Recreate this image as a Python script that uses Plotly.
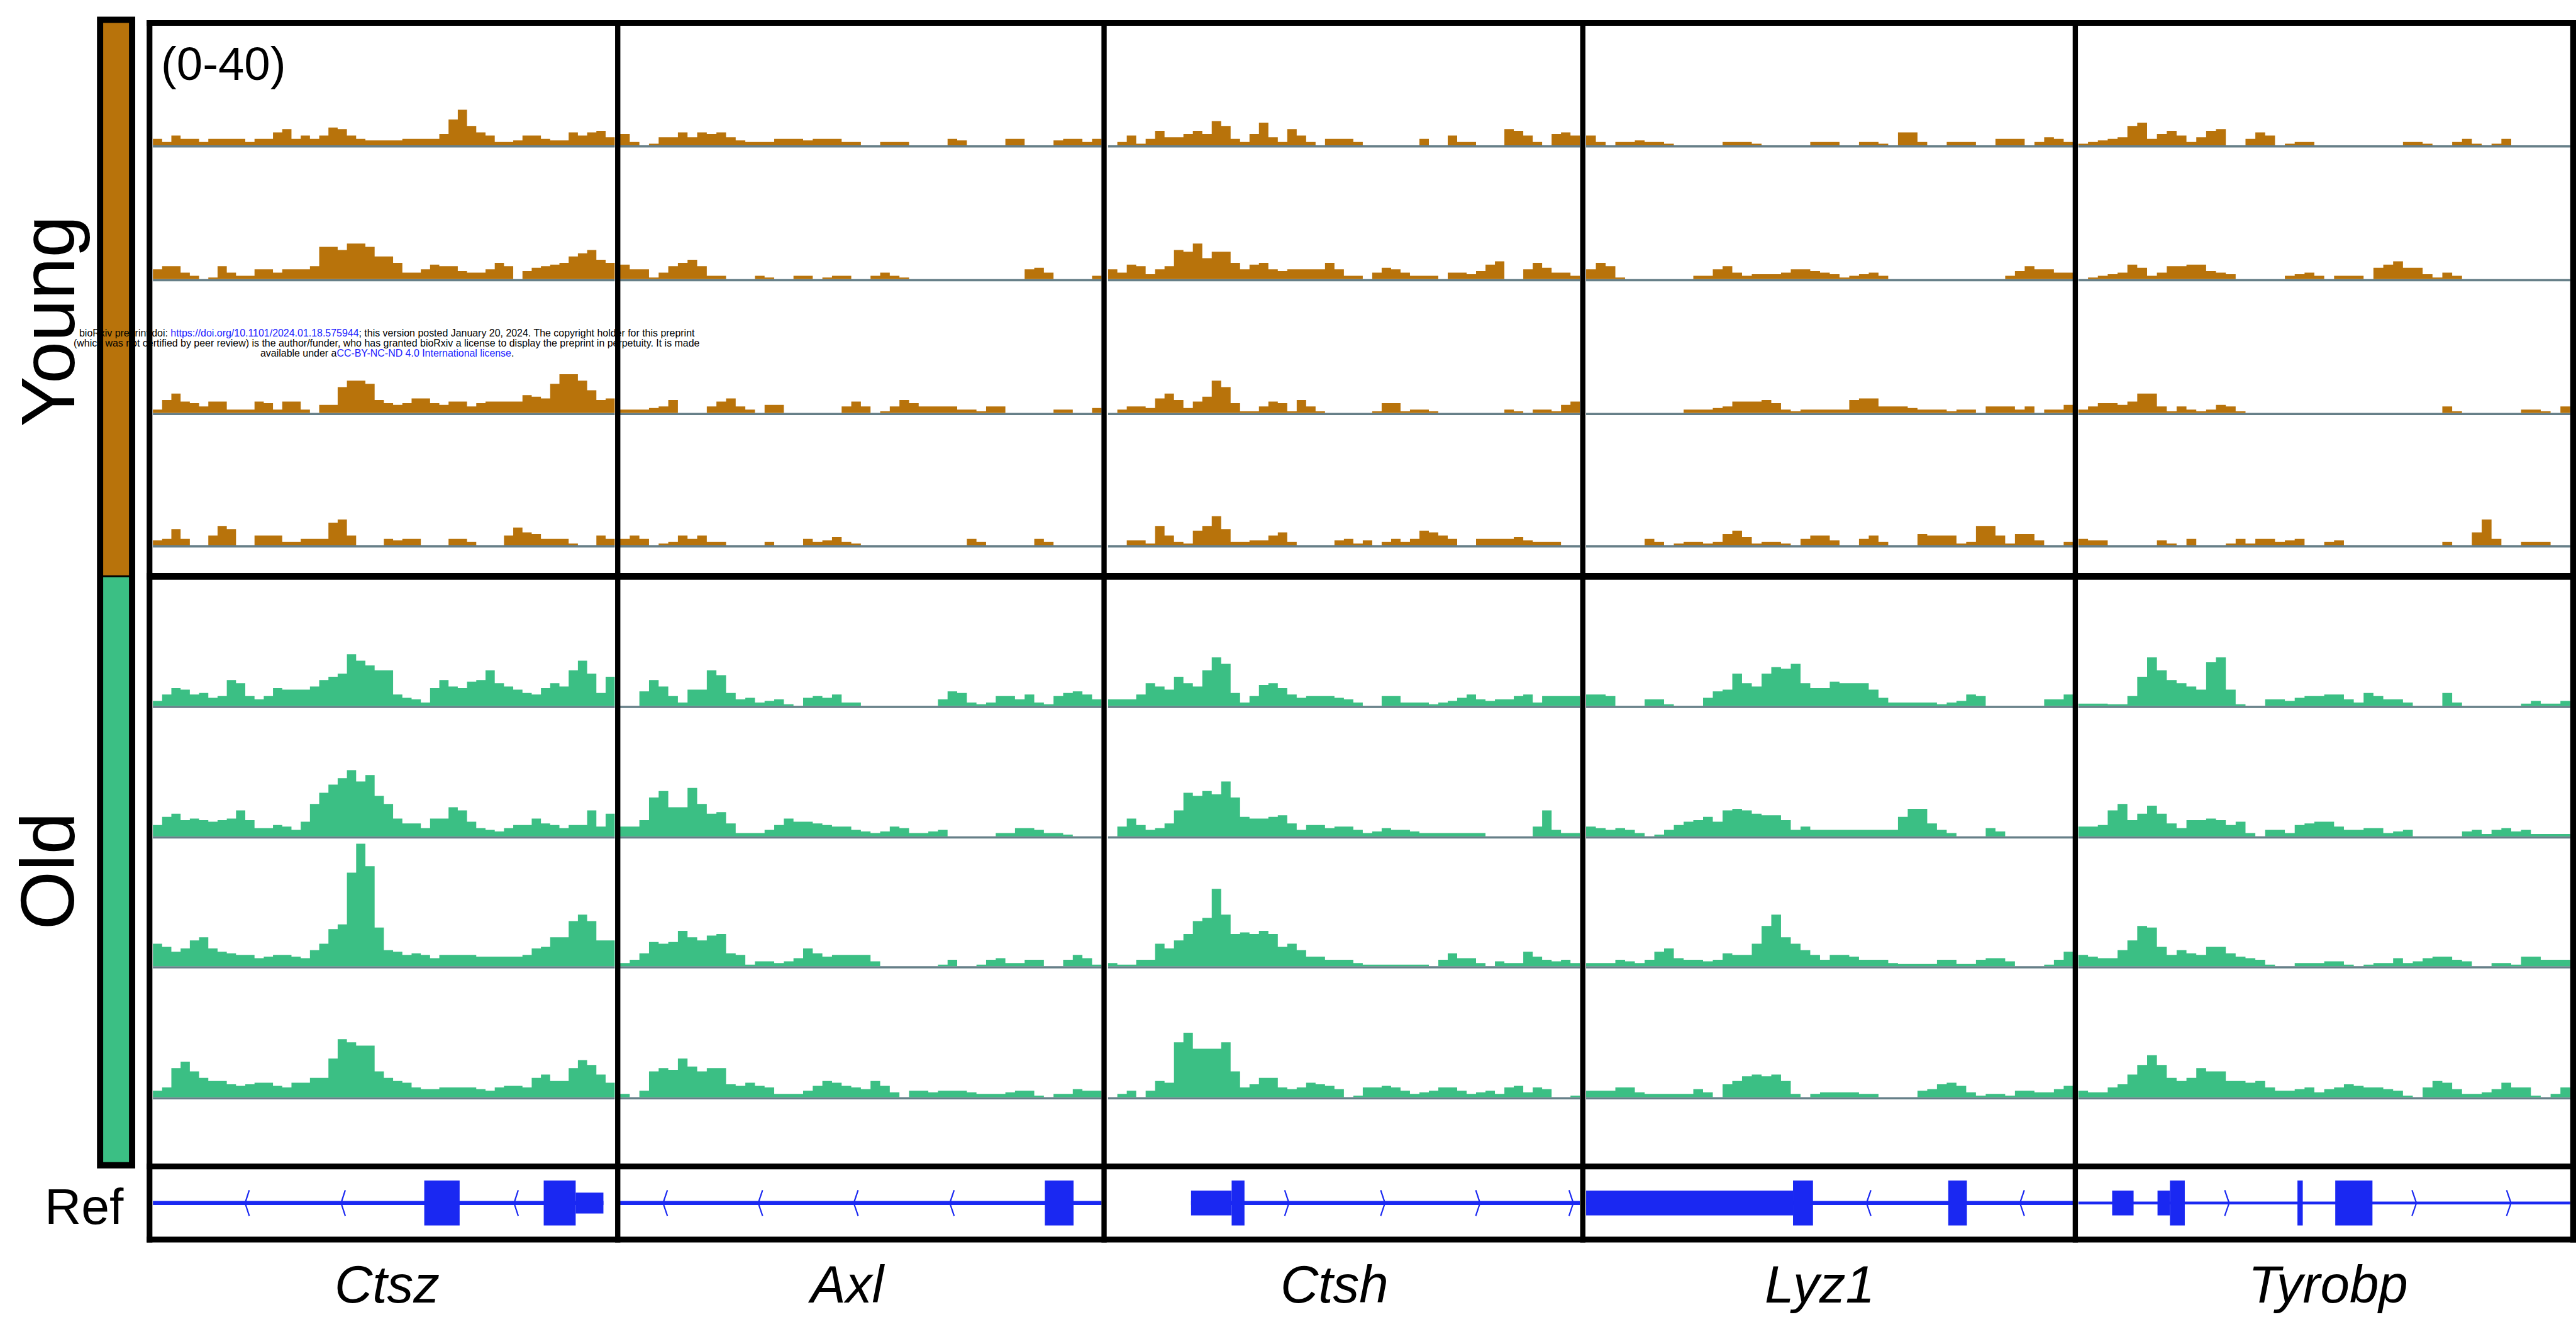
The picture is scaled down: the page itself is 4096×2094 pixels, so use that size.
import plotly.graph_objects as go

# ------------------------------------------------------------------ data
GENES = ["Ctsz", "Axl", "Ctsh", "Lyz1", "Tyrobp"]
GROUPS = ["Young", "Old"]
SCALE_LABEL = "(0-40)"
REF_LABEL = "Ref"

# coverage tracks (0-40 scale), 50 bins across each gene window, 4 replicates per group
CTSZ_YOUNG = [
    [2,1,3,2,2,1,2,2,2,2, 1,2,2,4,5,2,3,2,3,5.5, 5,3,2,1.5,1.5,1.5,1.5,2,2,2, 2,3.5,8,11,6,4,3,1,1,1.5, 3,3,2,1.5,1.5,4,3,4,4.5,2.5],
    [3,4,4,2,1,0,0.5,4,2,1, 1,3,3,2,3,3,3,4,10,10, 9,11,11,10,7,7,5,2,2,3, 4.5,4,4,2.5,2,2,3,5,4,0, 2.5,3.5,4,4.5,5,7,8,9,6,5],
    [1,4,6,3.5,3,2,3.5,3.5,1,1, 1,3.5,3,1,3.5,3.5,1,0,2.5,2.5, 8,10,10,9,4,3,2.5,3,4.5,4.5, 3,2.5,3.5,3.5,2,3,3.5,3.5,3.5,3.5, 5.5,5,4.5,9,12,12,10,7,4,4.5],
    [1.5,2,5,2,0,0,3,6,5,0, 0,3,3,3,1,1,2,2,2,7, 8,3,0,0,0,2,1.5,2,2,0, 0,0,2,2,1,0,0,0,3,5.5, 4,3.5,2,2,2,0.5,0,0,3,2],
]
CTSZ_OLD = [
    [1.5,3.5,5.5,5,3.5,4,2.5,3,8,7, 3,2,3,5.5,5,5,5,6,8,9, 10,16,14,12.5,11,11,3.5,2.5,2,1, 5.5,8,6,5.5,7.5,8,11,7,6,5, 4,3.5,5.5,7,6,11,14,10,4,9],
    [3.5,6,7,5,5.5,5,4.5,5,5.5,8, 5,2.5,2.5,3.5,3,2,4.5,10,13.5,16, 18,20.5,17,19,12.5,10,5.5,4,4,2.5, 5.5,5.5,9,8,4.5,2.5,2,1.5,2.5,3.5, 3.5,5.5,4,3.5,2.5,3.5,3.5,8,3,7],
    [7,6,4.5,5.5,8,9,5.5,4.5,4,3.5, 3.5,2.5,3,3.5,3.5,3,2.5,5,7,11.5, 13,29,38,31,12,5,4.5,3.5,4,3.5, 2.5,3.5,3.5,3.5,3.5,3,3,3,3,3, 3.5,5.5,6,9,9,14,16,14,8,8],
    [2,3,9,11,8,6,5,5,4,3.5, 4,4.5,4.5,3.5,3,4.5,4.5,6,6,12, 18,17,16,16,8,6,5,4.5,3,2.5, 2.5,3,3,3,3,2.5,2,3,3.5,3.5, 3,6,7,5,5,9,11.5,10,7,4.5],
]
AXL_YOUNG = [
    [3.5,1,0,0.5,2.5,2.5,4,2.5,4,3.5, 4,2.5,1.5,1,1,1,2,2,2,1.5, 2,2,2,1,1,0,0,1,1,1, 0,0,0,0,2,1.5,0,0,0,0, 2,2,0,0,0,1.5,2,2,1,2],
    [4.5,3,3,0.5,2,4,5,6,4,1, 1,0,0,0,1,0.5,0,0,1,1, 0,0.5,1,1,0,0,1,2,1,0.5, 0,0,0,0,0,0,0,0,0,0, 0,0,3,3.5,2,0,0,0,0,1],
    [1,1,1,1.5,2,4,0,0,0,2, 3.5,4.5,2,1,0,2.5,2.5,0,0,0, 0,0,0,2,3.5,2,0,0.5,2,4, 3,2,2,2,2,1,1,0.5,2,2, 0,0,0,0,0,1,1,0,0,1.5],
    [2,3,2,0,0.5,1,3,2,3,1, 1,0,0,0,0,1,0,0,0,2, 1,1.5,2.5,1,0.5,0,0,0,0,0, 0,0,0,0,0,0,2,1,0,0, 0,0,0,2,1,0,0,0,0,0],
]
AXL_OLD = [
    [0,0,4.5,8,6,3,1,5,5,11, 9.5,4,2,2.5,1,1.5,2,0.5,0,2.5, 3,2.5,3.5,1,1,0,0,0,0,0, 0,0,0,2,4.5,4,1,0.5,1,3, 3,2,3.5,1,0.5,3,4,4.5,3.5,2],
    [3,3,5,12,14,9,9,15,10,7, 7.5,4,1,1,1,2,3.5,5.5,4.5,4.5, 4,3.5,3,3,2,1.5,1,1.5,3,2.5, 1,1,1.5,2,0,0,0,0,0,1, 1,2.5,2.5,2,1,1,0.5,0,0,0],
    [1,2,4,7.5,7,7.5,11,9,8,9.5, 10,4,3.5,0.5,1.5,1.5,1,1.5,2.5,5.5, 4,3,3.5,3.5,3.5,3.5,1.5,0,0,0, 0,0,0,0.5,2,0,0,0.5,2,2.5, 1,1,2,2,0,0,2,3.5,2.5,0.5],
    [1,0,2,8,9,8.5,12,9.5,8,9, 9,4,3.5,4.5,3.5,3,1,1,1,2, 3.5,5,4.5,3.5,3,2.5,5,3.5,1.5,0, 2,2,1.5,2,2,2,1.5,1,1,1, 1.5,2,2,0.5,0,1,1,2.5,2,2],
]
CTSH_YOUNG = [
    [0,1,3,0.5,2,4.5,2.5,2.5,3.5,4.5, 3.5,7.5,6,2,1,3.5,7,2.5,1,5, 3,1,0,2,2,2,1,0,0,0, 0,0,0,2,0,0,3,1,1,0, 0,0,5,4.5,3,1,0,3.5,4,3],
    [3,2,4.5,4,1.5,3,4,9,8.5,11, 6.5,8.5,8.5,5,3,4.5,5,3,2.5,3, 3,3,3,5,3,1,1,0,2,3.5, 3,2,1,1,1,0,2,2,1.5,2.5, 4.5,5.5,0,0,3,5,3.5,2,2,1],
    [0,1,2,2,1.5,4.5,6,4,1.5,3.5, 5,10,8,3,0.5,0.5,2,3.5,3,0.5, 4,2,0.5,0,0,0,0,0,0.5,3, 3,0.5,1,1,0.5,0,0,0,0,0, 0,0,1,0.5,0,1,1,0.5,2.5,3.5],
    [0,0,1.5,1.5,0.5,6,3,1,0.5,4.5, 6,9,5,1,1,1.5,1.5,3,4,1, 0,0,0,0,1.5,2,0.5,1.5,0,1, 2,1,2,4.5,4,3,2,0,0,2, 2,2,2,2.5,1.5,1,1,1,0,0],
]
CTSH_OLD = [
    [2,2,2,3.5,7,6,5,9,7,6, 11,15,13,4,1,3,6.5,7,5.5,3.5, 2.5,3,3,3,2.5,2,1,0,0,3, 3,1,1,1,0.5,1,1.5,2.5,3.5,2, 1.5,2,2,3,3.5,1,3,3,3,3],
    [0,3,5.5,3.5,2,2.5,4,8,13.5,12.5, 14,13,17,12,6,5.5,5.5,6,6.5,4, 2,3.5,3.5,2.5,3,3,2,1,1.5,2.5, 2,2,1.5,1,1,1,1,1,1,1, 0,0,0,0,0,3,8,2,1,1],
    [1,0.5,0.5,2,2,7,5.5,8,10,14, 15,24,16,10,10.5,10,11,10,6,7, 5,3,3,2,2,2,1,0.5,0.5,0.5, 0.5,0.5,0.5,0.5,0,2,4,2.5,2.5,1, 0,1.5,1,1,4.5,3,2,1.5,2,1],
    [0,1,2,0,2,5,4.5,17,20,15, 15,15,17,8,3,4,6,6,3,2.5, 3,4.5,4,3.5,2.5,0,0.5,3,3,3.5, 3,2,1,1.5,2,3,3,2,1,1.5, 2,1,3,3.5,1.5,3,2.5,0,0,0.5],
]
LYZ1_YOUNG = [
    [3,1,0,1,1,1.5,1,1,0.5,0, 0,0,0,0,1,1,1,0.5,0,0, 0,0,0,1,1,1,0,0,1,1, 0.5,0,4,4,1,0,0,1,1,1, 0,0,2,2,2,0,1,2.5,2,1],
    [3,5,4,0.5,0,0,0,0,0,0, 0,1,1,3,4,2,1,1.5,1.5,1.5, 2,3,3,2.5,2,1.5,0.5,1,1.5,2, 1,0,0,0,0,0,0,0,0,0, 0,0,0,1,2.5,4,3,3,2,2],
    [0,0,0,0,0,0,0,0,0,0, 1,1,1,1.5,2,3.5,3.5,3.5,4,3, 1,0.5,1,1,1,1,1,4,4.5,4.5, 2,2,2,1.5,1,1,1,0.5,1,1, 0,2,2,2,1,2,0,1,1,2.5],
    [0,0,0,0,0,0,2,1,0,0.5, 1,1,0.5,1,3.5,4.5,2.5,0.5,1,1, 0.5,0,2,3,3,1.5,0,0,2,3, 1,0,0,0,3.5,3,3,3,0.5,1, 6,6,3,0.5,3.5,3.5,1.5,0,0,1],
]
LYZ1_OLD = [
    [3.5,3.5,3,0,0,0,2,2,0.5,0, 0,0,2.5,4.5,5,10,7,6,10,12, 11.5,13,7,5.5,5.5,7.5,7,7,7,5, 2.5,1,1,1,1,1,0.5,1,1.5,3.5, 3,0,0,0,0,0,0,2,2,3.5],
    [3,2.5,2,2.5,2,1,0,0.5,2,3.5, 4.5,5,6,4.5,8,8.5,8,7,6.5,6.5, 5,2,3,2,2,2,2,2,2,2, 2,2,6,8.5,8.5,4,2,1,0,0, 0,2.5,1.5,0,0,0,0,0,0,0],
    [1,1,1,2,1.5,1,2,4.5,5.5,2.5, 2,2,1.5,2,4,3.5,3.5,7,12.5,16, 9,7,5,3.5,2,3.5,3.5,3,2,2, 2,1,0.7,0.7,0.7,0.7,2,2,0.7,0.7, 2,2.5,2.5,1.5,0,0,0,0.5,2,4.5],
    [2,2,2,3,3,1.5,1,1,1,1, 1,2.5,1.5,0,4,5,6.5,7,6.5,7, 5,1,0,1,1.5,1.5,1.5,1.5,1,1, 0,0,0,0,2,2.5,4,4.5,3.5,1.5, 0.5,1,1,0.5,2,2,1.5,1.5,2.5,3.5],
]
TYROBP_YOUNG = [
    [0.5,1,1.5,2,2.5,6,7,2,3.5,4.5, 3,1,2.5,4.5,5,0,0,2,4,3, 0,0.5,1,1,0,0,0,0,0,0, 0,0,0,1,1,0.5,0,0,1,2, 0.5,0,0.5,2,0,0,0,0,0,0],
    [0,0.5,1,1.5,2,4.5,3.5,1,2,4, 4,4.5,4.5,2.5,2,1.5,0,0,0,0, 0,1,1.5,2,1,0,1,1,1,0, 3.5,4.5,5.5,3.5,3.5,1.5,0.5,2,1,0, 0,0,0,0,0,0,0,0,0,0],
    [1,2,3,3,2.5,3.5,6,6,2,0.5, 2,1,0.5,1,2.5,2,0.5,0,0,0, 0,0,0,0,0,0,0,0,0,0, 0,0,0,0,0,0,0,2,0.5,0, 0,0,0,0,0,1,1,0.5,0,2],
    [2,1.5,1.5,0,0,0,0,0,1.5,0.5, 0,2,0,0,0,0.5,2,0.5,2,2, 1,1.5,2,0,0,1,1.5,0,0,0, 0,0,0,0,0,0,0,1,0,0, 4,8,2,0,0,1,1,1,0,0],
]
TYROBP_OLD = [
    [0.7,0.7,0.7,0.5,0.5,3,9,15,11,8, 7,6,5,13.5,15,5,0.5,0,0,2, 2,1.5,2.5,3,3,3.5,3.5,2,1,4, 3,2,2,1,0,0,0,4,1,0, 0,0,0,0,0,0.7,1.5,0.7,0.7,1.5],
    [3,3,3.5,8,10,5,7,9.5,7,4, 2.5,5,5,5.5,5,3.5,4.5,1,0,2, 2,1,3.5,4,4.5,4.5,3,2,2,2.5, 2.5,1,1.5,2,0,0,0,0,0,1.5, 2,0.7,2,2.5,1.5,2,0.7,0.7,0.7,0.7],
    [3.5,3,2.5,2.5,5,8,12.5,12,6,3.5, 5,4,3.5,6,6,4,3,2.5,2,0.5, 0,0,1,1,1,1.5,1.5,0.5,0,0.5, 1,1,2.5,1,1.5,2.5,3,3,2,1.5, 0,0,1,1,0.5,3,3,2,2,2],
    [2,1.5,1.5,3,4,7,10,13,10,6, 5,6,9,8,8,5,5,4.5,5,3, 2,2,2.5,3,1.5,2.5,3,4,3.5,3, 3,2.5,2,0.5,0,3,5,4.5,2.5,1, 1,1.5,2.5,4.5,3,3,0.5,0,1,3],
]
YOUNG = [CTSZ_YOUNG, AXL_YOUNG, CTSH_YOUNG, LYZ1_YOUNG, TYROBP_YOUNG]
OLD = [CTSZ_OLD, AXL_OLD, CTSH_OLD, LYZ1_OLD, TYROBP_OLD]

# gene models in window units (0-50): exons (start, end, kind), intron span, strand arrows
CTSZ_EXONS = [(29.37, 33.20, "cds"), (42.30, 45.76, "cds"), (45.76, 48.76, "utr")]
AXL_EXONS = [(44.10, 47.08, "cds")]
CTSH_EXONS = [(8.81, 13.11, "mid"), (13.11, 14.47, "cds")]
LYZ1_EXONS = [(0.0, 21.23, "mid"), (21.23, 23.28, "cds"), (37.16, 39.07, "cds")]
TYROBP_EXONS = [(3.45, 5.63, "mid"), (8.06, 9.32, "mid"), (9.32, 10.83, "cds"),
                (22.28, 22.82, "cds"), (26.12, 29.90, "cds")]
EXONS = [CTSZ_EXONS, AXL_EXONS, CTSH_EXONS, LYZ1_EXONS, TYROBP_EXONS]
SPANS = [(0.0, 48.76), (0.0, 50.0), (8.81, 50.0), (0.0, 50.0), (0.0, 50.0)]
STRANDS = ["-", "-", "+", "-", "+"]
ARROWS = [[9.98, 20.37, 39.09], [4.46, 14.34, 24.26, 34.23], [19.18, 29.35, 39.42, 49.3],
          [28.77, 44.51], [15.34, 34.37, 43.98]]

WATERMARK = [
    "bioRxiv preprint doi: <span style='color:#1a1aff'>https://doi.org/10.1101/2024.01.18.575944</span>; "
    "this version posted January 20, 2024. The copyright holder for this preprint",
    "(which was not certified by peer review) is the author/funder, who has granted bioRxiv a license "
    "to display the preprint in perpetuity. It is made",
    "available under a<span style='color:#1a1aff'>CC-BY-NC-ND 4.0 International license</span>.",
]

# ------------------------------------------------------------------ layout geometry (reference px)
W, H = 4096, 2094
RW, RH = 5392, 2756
S = W / RW

def fx(x):
    return x / RW

def fy(y):
    return 1 - y / RH

ORANGE = "#B8730B"
GREEN = "#3BBF84"
BASEC = "#667F88"
BLUE = "#1A28F2"
FONT = "Liberation Sans, Arial, Helvetica, sans-serif"

COL_EDGES = [(320, 1287), (1298, 2306), (2319, 3307), (3320, 4340), (4350, 5380)]
DIVIDERS = [313, 1293, 2311, 3313, 4344, 5386]
BASELINES = [304, 584, 864, 1141, 1477, 1750, 2022, 2296]
TRACK_H = 270
REF_TOP, REF_BOT = 2447, 2588
HALF = {"cds": 0.667, "mid": 0.37, "utr": 0.31}

fig = go.Figure()
layout = {}

def xname(c):
    return "x" if c == 0 else f"x{c+1}"

def yname(r):
    return "y" if r == 0 else f"y{r+1}"

for c, (a, b) in enumerate(COL_EDGES):
    key = "xaxis" if c == 0 else f"xaxis{c+1}"
    layout[key] = dict(domain=[fx(a), fx(b)], range=[0, 50], visible=False,
                       fixedrange=True, anchor="y")
unit = TRACK_H / 40.0
for r, base in enumerate(BASELINES):
    key = "yaxis" if r == 0 else f"yaxis{r+1}"
    layout[key] = dict(domain=[fy(base + unit), fy(base - TRACK_H)], range=[-1, 40],
                       visible=False, fixedrange=True, anchor="x")
layout["yaxis9"] = dict(domain=[fy(REF_BOT), fy(REF_TOP)], range=[-1, 1],
                        visible=False, fixedrange=True, anchor="x")

shapes = []

# coverage tracks
for c in range(5):
    for g, (data, color) in enumerate([(YOUNG, ORANGE), (OLD, GREEN)]):
        for t, vals in enumerate(data[c]):
            r = g * 4 + t
            n = len(vals)
            edges = [50.0 * i / n for i in range(n + 1)]
            yv = list(vals) + [vals[-1]]
            shapes.append(dict(type="line", xref=xname(c), yref=yname(r), x0=0, x1=50,
                               y0=-0.35, y1=-0.35, layer="below",
                               line=dict(color=BASEC, width=3.5)))
            fig.add_trace(go.Scatter(x=edges, y=yv, mode="lines",
                                     line=dict(width=0, color=color, shape="hv"),
                                     fill="tozeroy", fillcolor=color,
                                     xaxis=xname(c), yaxis=yname(r), hoverinfo="skip"))

# reference gene models
for c in range(5):
    lw = 4.5 if c == 4 else 6.5
    s0, s1 = SPANS[c]
    shapes.append(dict(type="line", xref=xname(c), yref="y9", x0=s0, x1=s1, y0=0, y1=0,
                       line=dict(color=BLUE, width=lw)))
    for (e0, e1, kind) in EXONS[c]:
        h = HALF[kind]
        shapes.append(dict(type="rect", xref=xname(c), yref="y9", x0=e0, x1=e1,
                           y0=-h, y1=h, fillcolor=BLUE, line=dict(width=0)))
    ax, ay = [], []
    w = 0.45
    for p in ARROWS[c]:
        if STRANDS[c] == "-":
            ax += [p + w, p, p + w, None]
        else:
            ax += [p - w, p, p - w, None]
        ay += [0.38, 0, -0.38, None]
    fig.add_trace(go.Scatter(x=ax, y=ay, mode="lines", line=dict(color=BLUE, width=2.2),
                             xaxis=xname(c), yaxis="y9", hoverinfo="skip"))

# left group bars
shapes.append(dict(type="rect", xref="paper", yref="paper", x0=fx(203), x1=fx(283),
                   y0=fy(2445), y1=fy(35), fillcolor="black", line=dict(width=0)))
shapes.append(dict(type="rect", xref="paper", yref="paper", x0=fx(216), x1=fx(270),
                   y0=fy(1204), y1=fy(48), fillcolor=ORANGE, line=dict(width=0)))
shapes.append(dict(type="rect", xref="paper", yref="paper", x0=fx(216), x1=fx(270),
                   y0=fy(2432), y1=fy(1208), fillcolor=GREEN, line=dict(width=0)))

# frame lines
LW = 12 * S
for yy, lw in [(48, LW), (1206, 14 * S), (2441, LW), (2594, LW)]:
    shapes.append(dict(type="line", xref="paper", yref="paper", x0=fx(307), x1=fx(5392),
                       y0=fy(yy), y1=fy(yy), line=dict(color="black", width=lw)))
for i, xx in enumerate(DIVIDERS):
    lw = LW if i in (0, 5) else 11 * S
    shapes.append(dict(type="line", xref="paper", yref="paper", x0=fx(xx), x1=fx(xx),
                       y0=fy(42), y1=fy(2600), line=dict(color="black", width=lw)))

def label(text, x, y, size, **kw):
    return dict(text=text, x=fx(x), y=fy(y), xref="paper", yref="paper",
                xanchor="center", yanchor="middle", showarrow=False,
                font=dict(family=FONT, size=size * S, color="black"), **kw)

annotations = []
annotations.append(label(SCALE_LABEL, 468, 133, 98))
for name, yc in zip(GROUPS, [672, 1823]):
    annotations.append(label(name, 99, yc, 158, textangle=-90))
annotations.append(label(REF_LABEL, 176, 2524, 106))
GENE_X = [810, 1771, 2794, 3809, 4873]
for gname, gx in zip(GENES, GENE_X):
    annotations.append(label(f"<i>{gname}</i>", gx, 2688, 110))
for line, ly in zip(WATERMARK, [697, 718, 739]):
    annotations.append(label(line, 810, ly, 21))

fig.update_layout(width=W, height=H, margin=dict(l=0, r=0, t=0, b=0),
                  paper_bgcolor="white", plot_bgcolor="rgba(0,0,0,0)",
                  showlegend=False, shapes=shapes, annotations=annotations, **layout)
fig.write_html("out.html")
